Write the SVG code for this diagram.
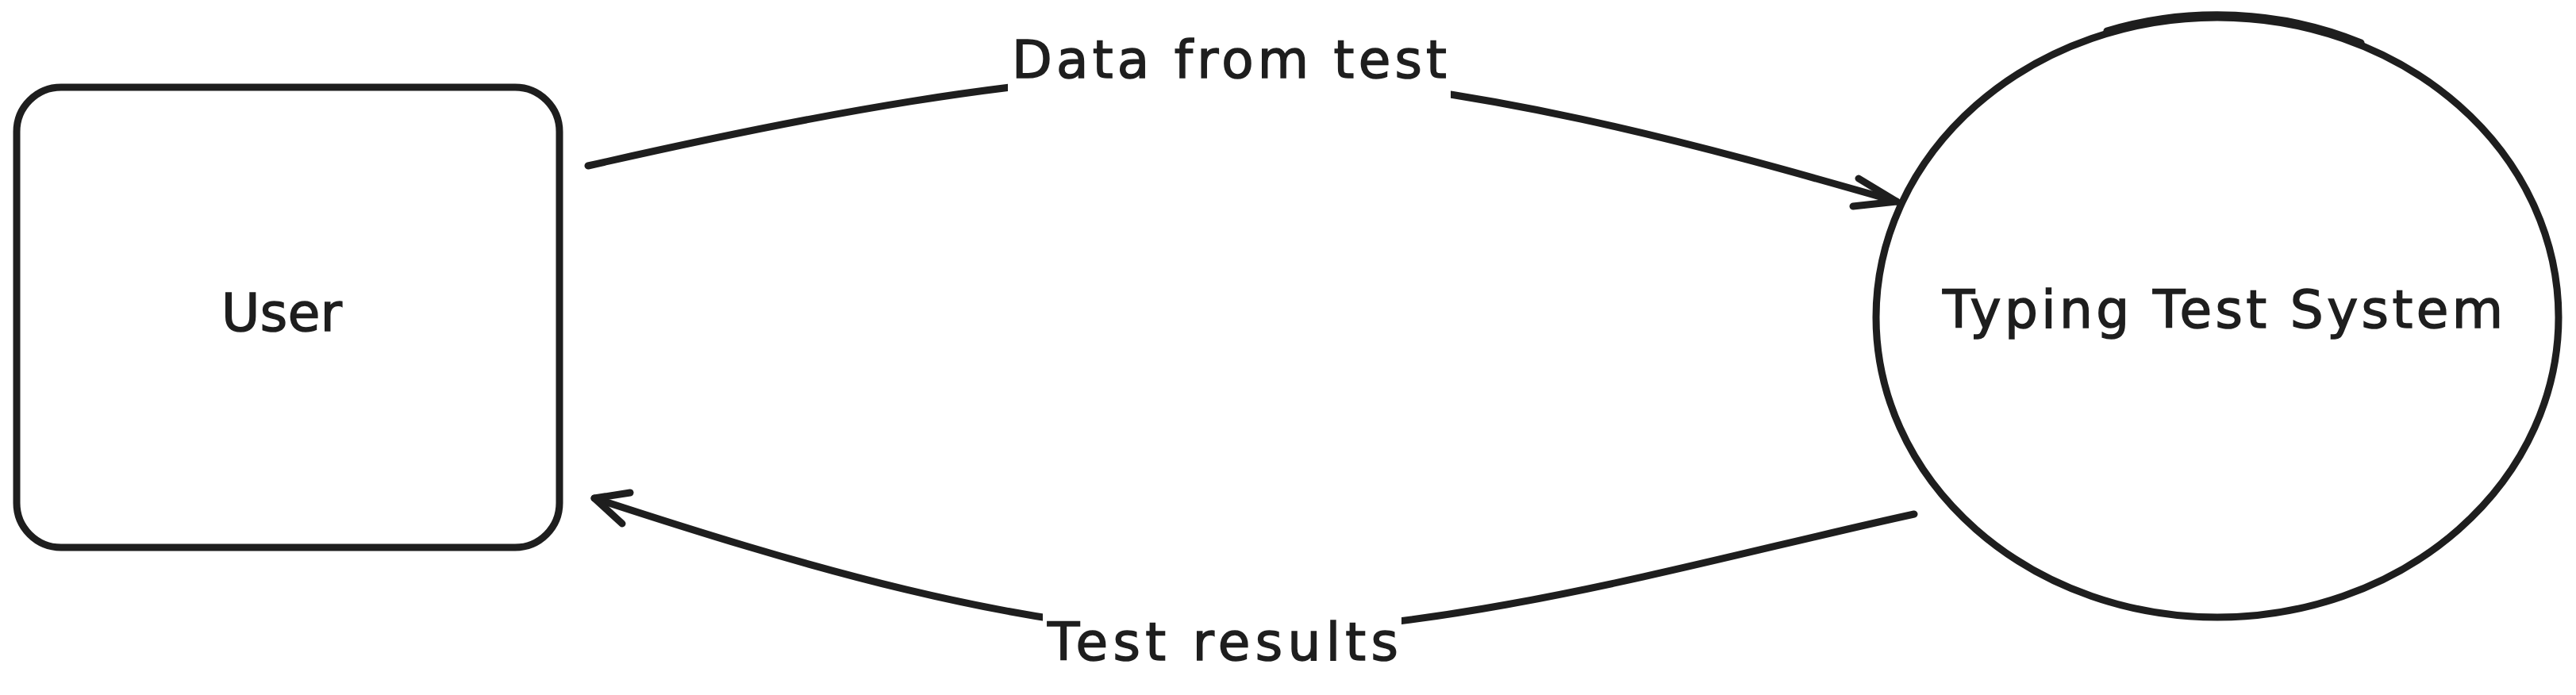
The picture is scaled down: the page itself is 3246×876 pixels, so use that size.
<svg xmlns="http://www.w3.org/2000/svg" width="3246" height="876" viewBox="0 0 3246 876">
  <style>
    .shape { fill: none; stroke: #1e1e1e; stroke-width: 9; stroke-linecap: round; stroke-linejoin: round; }
    .label { font-family: "DejaVu Sans", "Liberation Sans", sans-serif; font-size: 66px; fill: #1e1e1e; stroke: #1e1e1e; stroke-width: 1.5; }
  </style>
  <defs>
    <mask id="labelGaps" maskUnits="userSpaceOnUse" x="0" y="0" width="3246" height="876">
      <rect x="0" y="0" width="3246" height="876" fill="#fff"/>
      <rect x="1270" y="30" width="558" height="100" fill="#000"/>
      <rect x="1314" y="760" width="452" height="90" fill="#000"/>
    </mask>
  </defs>
  <rect width="3246" height="876" fill="#ffffff"/>

  <g id="node-user">
    <rect class="shape" x="21" y="110" width="684" height="580" rx="56" ry="56"/>
    <text class="label" x="279" y="417" textLength="152" lengthAdjust="spacing">User</text>
  </g>

  <g id="node-typing-test-system">
    <ellipse class="shape" cx="2794" cy="400" rx="430" ry="378" stroke-width="7.5"/>
    <path class="shape" d="M2655,39 A430,378 0 0 1 2975,54" stroke-width="6"/>
    <text class="label" x="2448" y="413" textLength="706" lengthAdjust="spacing">Typing Test System</text>
  </g>

  <g id="connectors">
    <g mask="url(#labelGaps)">
      <path class="shape" d="M741,209 C1000,150 1300,90 1550,92 C1850,100 2150,185 2390,254"/>
      <path class="shape" d="M2412,648 C2150,705 1850,795 1540,800 C1280,795 1000,710 749,628"/>
    </g>
    <path class="shape" d="M2342,225 L2390,254 L2335,260"/>
    <path class="shape" d="M794,621 L749,628 L784,660"/>
    <text class="label" x="1275" y="98" textLength="548" lengthAdjust="spacing">Data from test</text>
    <text class="label" x="1320" y="832" textLength="442" lengthAdjust="spacing">Test results</text>
  </g>
</svg>
